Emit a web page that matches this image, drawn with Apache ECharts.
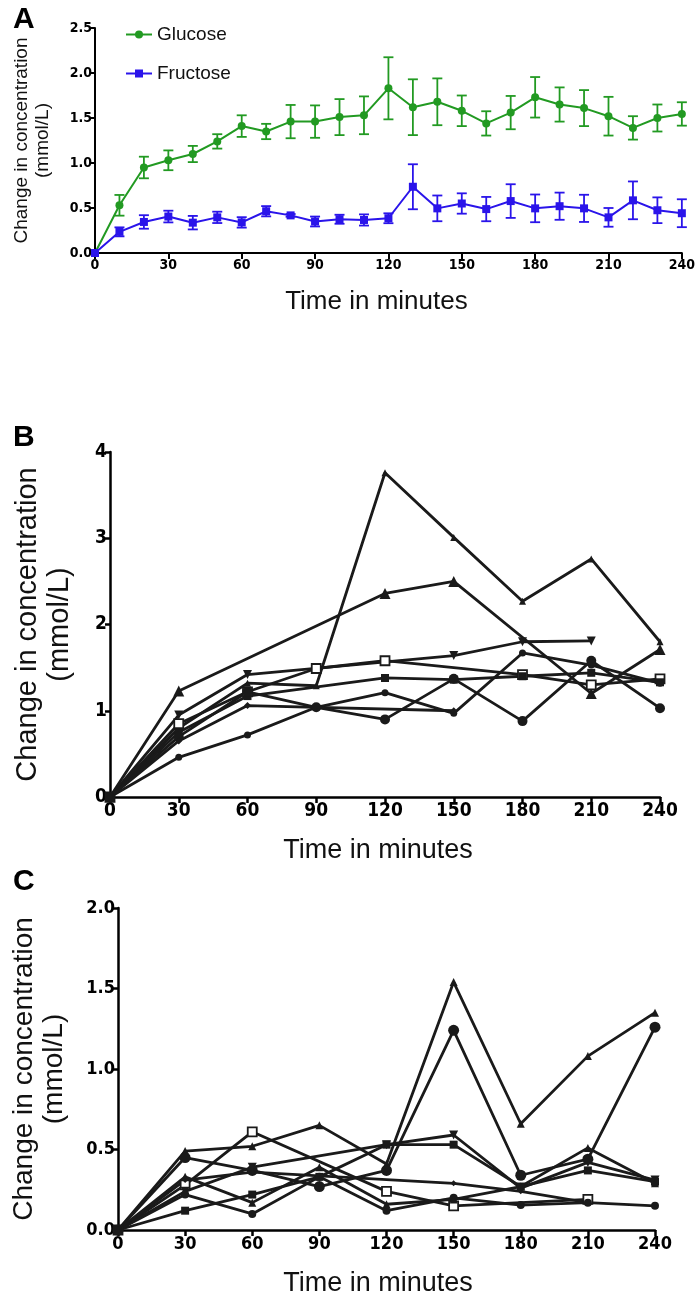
<!DOCTYPE html>
<html>
<head>
<meta charset="utf-8">
<script src="https://cdn.jsdelivr.net/npm/echarts@6/dist/echarts.min.js"></script>
<style>
html,body{margin:0;padding:0;background:#fff;}
#chart{width:698px;height:1298px;}
</style>
</head>
<body>
<div id="chart"></div>
<script>
// ---------- Panel A data ----------
const timesA = [0,10,20,30,40,50,60,70,80,90,100,110,120,130,140,150,160,170,180,190,200,210,220,230,240];
const glucoseMean = [0,0.53,0.95,1.03,1.10,1.24,1.41,1.35,1.46,1.46,1.51,1.53,1.83,1.62,1.68,1.58,1.44,1.56,1.73,1.65,1.61,1.52,1.39,1.50,1.545];
const glucoseErr  = [0,0.115,0.12,0.11,0.09,0.08,0.12,0.085,0.185,0.18,0.20,0.21,0.345,0.31,0.26,0.17,0.135,0.185,0.225,0.19,0.20,0.215,0.13,0.15,0.13];
const fructoseMean = [0,0.235,0.345,0.405,0.337,0.396,0.34,0.464,0.418,0.35,0.375,0.367,0.386,0.736,0.496,0.55,0.488,0.577,0.496,0.52,0.496,0.396,0.585,0.475,0.442];
const fructoseErr  = [0,0.05,0.075,0.065,0.075,0.063,0.058,0.057,0.015,0.055,0.05,0.062,0.055,0.25,0.143,0.113,0.135,0.187,0.154,0.151,0.151,0.104,0.21,0.143,0.155];

// ---------- Panels B and C data (individual subjects) ----------
const timesBC = [0,30,60,90,120,150,180,210,240];

const bTriUpBig   = [0,1.23,null,null,2.36,2.50,null,1.20,1.71];
const bTriUpSmall = [0,0.80,1.32,1.29,3.76,3.01,2.27,2.76,1.80];
const bTriDown    = [0,0.95,1.42,null,null,1.64,1.80,1.81,null];
const bOpenSq     = [0,0.85,1.22,1.49,1.58,null,1.42,1.30,1.37];
const bFilledSq   = [0,0.75,1.17,null,1.38,1.36,1.40,1.44,1.33];
const bCircSmall  = [0,0.46,0.72,1.04,1.21,0.97,1.67,1.53,1.32];
const bCircBig    = [0,0.70,1.22,1.04,0.90,1.37,0.88,1.58,1.03];
const bDiamond    = [0,0.65,1.06,null,null,1.00,null,null,null];

const cTriUpBig   = [0,0.49,0.52,0.65,0.41,1.54,0.66,1.08,1.35];
const cCircBig    = [0,0.45,0.37,0.27,0.37,1.24,0.34,0.44,1.26];
const cOpenSq     = [0,0.28,0.61,null,0.24,0.15,null,0.19,null];
const cTriDown    = [0,0.24,0.39,null,0.53,0.59,0.26,0.42,0.31];
const cFilledSq   = [0,0.12,0.22,0.33,0.53,0.53,0.27,0.37,0.30];
const cStar       = [0,0.31,0.36,null,null,0.29,0.24,0.17,null];
const cCircSmall  = [0,0.22,0.10,0.33,0.12,0.20,0.155,0.17,0.15];
const cTriSmall   = [0,0.33,0.17,0.39,0.16,0.19,0.27,0.51,0.29];

// ---------- styling ----------
const GREEN = '#229a22';
const BLUE = '#2a14ea';
const tickFont = "'Liberation Sans Narrow','DejaVu Sans Condensed',sans-serif";
const titleFont = "'Liberation Sans','Arial',sans-serif";

function pairs(xs, ys){ return xs.map((x,i)=>[x, ys[i]]); }
function errData(xs, m, e){ return xs.map((x,i)=>[x, m[i]-e[i], m[i]+e[i]]); }

function errSeries(name, xs, m, e, color){
  return {
    type:'custom', name: name+' SEM', xAxisIndex:0, yAxisIndex:0, z:1,
    data: errData(xs,m,e),
    renderItem: function(params, api){
      const x = api.value(0);
      if (api.value(2) - api.value(1) <= 0) return null;
      const lo = api.coord([x, api.value(1)]);
      const hi = api.coord([x, api.value(2)]);
      const w = 5;
      const st = {stroke: color, lineWidth: 1.8};
      return {type:'group', children:[
        {type:'line', shape:{x1:lo[0],y1:lo[1],x2:hi[0],y2:hi[1]}, style:st},
        {type:'line', shape:{x1:lo[0]-w,y1:lo[1],x2:lo[0]+w,y2:lo[1]}, style:st},
        {type:'line', shape:{x1:hi[0]-w,y1:hi[1],x2:hi[0]+w,y2:hi[1]}, style:st}
      ]};
    }
  };
}

function xAxisCfg(gi, fs, nameGap, nameFs, lw, shift){
  return {
    type:'value', gridIndex: gi, min:0, max:240, interval:30,
    name:'Time in minutes', nameLocation:'middle', nameGap: nameGap,
    nameTextStyle:{fontFamily:titleFont, fontSize:nameFs, color:'#111', padding:[0, shift, 0, 0]},
    axisLine:{show:true, onZero:false, lineStyle:{color:'#000', width:lw}},
    axisTick:{show:true, length:6, lineStyle:{color:'#000', width:lw}},
    axisLabel:{fontFamily:tickFont, fontWeight:'bold', fontSize:fs, color:'#000', margin:5},
    splitLine:{show:false}
  };
}
function yAxisCfg(gi, max, interval, fs, nameGap, nameFs, lw, dec){
  return {
    type:'value', gridIndex: gi, min:0, max:max, interval:interval,
    name:'Change in concentration\n(mmol/L)', nameLocation:'middle', nameGap:nameGap, nameRotate:90,
    nameTextStyle:{fontFamily:titleFont, fontSize:nameFs, color:'#111', lineHeight: nameFs*1.1},
    axisLine:{show:true, onZero:false, lineStyle:{color:'#000', width:lw}},
    axisTick:{show:true, length:5, lineStyle:{color:'#000', width:lw}},
    axisLabel:{fontFamily:tickFont, fontWeight:'bold', fontSize:fs, color:'#000', margin:3,
      formatter: v => dec ? v.toFixed(1) : String(v)},
    splitLine:{show:false}
  };
}

function blackLine(name, xi, ys, symbol, size, opts){
  opts = opts || {};
  return Object.assign({
    type:'line', name:name, xAxisIndex:xi, yAxisIndex:xi,
    data: pairs(timesBC, ys), connectNulls:true,
    symbol: symbol, symbolSize: size, showSymbol:true,
    lineStyle:{color:'#1a1a1a', width:2.8},
    itemStyle:{color: opts.hollow ? '#fff' : '#1a1a1a', borderColor:'#1a1a1a', borderWidth: opts.hollow ? 1.8 : 0},
    emphasis:{disabled:true}, animation:false
  }, opts.rotate ? {symbolRotate: opts.rotate} : {});
}

const option = {
  animation:false,
  backgroundColor:'#fff',
  title:[
    {text:'A', left:8, top:0, textStyle:{fontFamily:titleFont, fontWeight:'bold', fontSize:30, color:'#000'}},
    {text:'B', left:8, top:418, textStyle:{fontFamily:titleFont, fontWeight:'bold', fontSize:30, color:'#000'}},
    {text:'C', left:8, top:862, textStyle:{fontFamily:titleFont, fontWeight:'bold', fontSize:30, color:'#000'}}
  ],
  legend:{
    data:['Glucose','Fructose'], orient:'vertical', left:120, top:20, itemGap:20,
    itemWidth:26, itemHeight:10,
    textStyle:{fontFamily:titleFont, fontSize:19, color:'#111'}
  },
  grid:[
    {left:95, top:28, width:590, height:225},
    {left:110, top:452, width:550, height:345},
    {left:118, top:908, width:537, height:327}
  ],
  xAxis:[ xAxisCfg(0,14,36,26,2,24), xAxisCfg(1,19,40,27,2.5,14), xAxisCfg(2,18,40,27,2.5,17) ],
  yAxis:[ yAxisCfg(0,2.5,0.5,14,42,19,2,true), yAxisCfg(1,4,1,19,34,29,2.5,false), yAxisCfg(2,2,0.5,18,48,28,2.5,true) ],
  series:[
    errSeries('Glucose', timesA, glucoseMean, glucoseErr, GREEN),
    errSeries('Fructose', timesA, fructoseMean, fructoseErr, BLUE),
    {type:'line', name:'Glucose', xAxisIndex:0, yAxisIndex:0, z:3, data: pairs(timesA, glucoseMean),
     symbol:'circle', symbolSize:8, lineStyle:{color:GREEN, width:2}, itemStyle:{color:GREEN}},
    {type:'line', name:'Fructose', xAxisIndex:0, yAxisIndex:0, z:3, data: pairs(timesA, fructoseMean),
     symbol:'rect', symbolSize:8, lineStyle:{color:BLUE, width:2}, itemStyle:{color:BLUE}},

    blackLine('B1', 1, bTriUpBig, 'triangle', 11),
    blackLine('B2', 1, bTriUpSmall, 'triangle', 7),
    blackLine('B3', 1, bTriDown, 'triangle', 9, {rotate:180}),
    blackLine('B4', 1, bOpenSq, 'rect', 9, {hollow:true}),
    blackLine('B5', 1, bFilledSq, 'rect', 8),
    blackLine('B6', 1, bCircSmall, 'circle', 7),
    blackLine('B7', 1, bCircBig, 'circle', 10),
    blackLine('B8', 1, bDiamond, 'diamond', 7),

    blackLine('C1', 2, cTriUpBig, 'triangle', 8),
    blackLine('C2', 2, cCircBig, 'circle', 11),
    blackLine('C3', 2, cOpenSq, 'rect', 9, {hollow:true}),
    blackLine('C4', 2, cTriDown, 'triangle', 9, {rotate:180}),
    blackLine('C5', 2, cFilledSq, 'rect', 8),
    blackLine('C6', 2, cStar, 'diamond', 6),
    blackLine('C7', 2, cCircSmall, 'circle', 8),
    blackLine('C8', 2, cTriSmall, 'triangle', 8)
  ]
};
const chart = echarts.init(document.getElementById('chart'), null, {renderer:'canvas'});
chart.setOption(option);
</script>
</body>
</html>
